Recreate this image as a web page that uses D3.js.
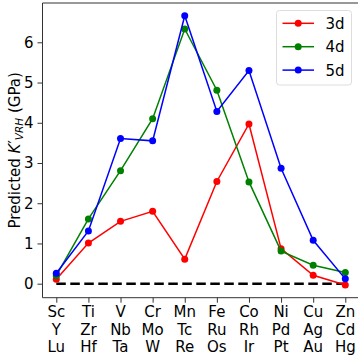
<!DOCTYPE html>
<html>
<head>
<meta charset="utf-8">
<script src="https://cdn.jsdelivr.net/npm/d3@7"></script>
<style>
  body { margin: 0; background: #fff; }
  text { font-family: "DejaVu Sans", sans-serif; fill: #000; }
</style>
</head>
<body>
<div id="chart"></div>
<script>
// element rows, one column per group
var row3d = ["Sc", "Ti", "V", "Cr", "Mn", "Fe", "Co", "Ni", "Cu", "Zn"];
var row4d = ["Y", "Zr", "Nb", "Mo", "Tc", "Ru", "Rh", "Pd", "Ag", "Cd"];
var row5d = ["Lu", "Hf", "Ta", "W", "Re", "Os", "Ir", "Pt", "Au", "Hg"];

var vals3d = [0.11, 1.01, 1.55, 1.80, 0.61, 2.54, 3.97, 0.87, 0.21, -0.03];
var vals4d = [0.20, 1.61, 2.81, 4.10, 6.33, 4.81, 2.53, 0.81, 0.46, 0.28];
var vals5d = [0.26, 1.31, 3.61, 3.55, 6.66, 4.28, 5.30, 2.87, 1.08, 0.12];

var yTicks = [0, 1, 2, 3, 4, 5, 6];
var seriesNames = ["3d", "4d", "5d"];
var seriesColors = ["red", "green", "blue"];

var width = 358, height = 362;
var fs = 15;

var svg = d3.select("#chart").append("svg")
  .attr("width", width)
  .attr("height", height);

var x = d3.scaleLinear().domain([0, 9]).range([56.3, 345.3]);
var y = d3.scaleLinear().domain([0, 6]).range([283.7, 42.3]);

var axLeft = 42.5, axTop = 3, axBottom = 297.7;

// y axis
var yAxis = svg.append("g")
  .attr("transform", "translate(" + axLeft + ",0)")
  .call(d3.axisLeft(y).tickValues(yTicks).tickSize(5).tickPadding(4).tickFormat(d3.format("d")));
yAxis.select(".domain").remove();
yAxis.selectAll("text").style("font-size", fs + "px").style("font-family", "DejaVu Sans");
yAxis.selectAll("line").attr("stroke", "#333");

// x axis with three label lines
var xAxis = svg.append("g")
  .attr("transform", "translate(0," + axBottom + ")")
  .call(d3.axisBottom(x).tickValues(d3.range(10)).tickSize(5).tickFormat(""));
xAxis.select(".domain").remove();
xAxis.selectAll("line").attr("stroke", "#333");

var rows = [row3d, row4d, row5d];
rows.forEach(function (row, r) {
  svg.append("g").selectAll("text")
    .data(row)
    .enter().append("text")
    .attr("x", function (d, i) { return x(i); })
    .attr("y", 317 + r * 17.6)
    .attr("text-anchor", "middle")
    .style("font-size", fs + "px")
    .text(function (d) { return d; });
});

// spines
svg.append("line").attr("x1", axLeft).attr("x2", axLeft).attr("y1", axTop).attr("y2", axBottom)
  .attr("stroke", "#333").attr("stroke-width", 1);
svg.append("line").attr("x1", axLeft).attr("x2", width).attr("y1", axBottom).attr("y2", axBottom)
  .attr("stroke", "#333").attr("stroke-width", 1);
svg.append("line").attr("x1", axLeft).attr("x2", width).attr("y1", axTop).attr("y2", axTop)
  .attr("stroke", "#333").attr("stroke-width", 1);

// y label
var ylab = svg.append("text")
  .attr("transform", "translate(20," + ((axTop + axBottom) / 2) + ") rotate(-90)")
  .attr("text-anchor", "middle")
  .style("font-size", fs + "px");
ylab.append("tspan").text("Predicted ");
ylab.append("tspan").style("font-style", "italic").text("K");
ylab.append("tspan").text("′");
ylab.append("tspan").style("font-style", "italic").style("font-size", (fs * 0.7) + "px")
  .attr("dy", 3).text("VRH");
ylab.append("tspan").attr("dy", -3).text(" (GPa)");

// zero line
svg.append("line")
  .attr("x1", x(0)).attr("x2", x(9))
  .attr("y1", y(0)).attr("y2", y(0))
  .attr("stroke", "#000")
  .attr("stroke-width", 2.6)
  .attr("stroke-dasharray", "9.5,4.5");

var line = d3.line()
  .x(function (d, i) { return x(i); })
  .y(function (d) { return y(d); });

var allSeries = [vals3d, vals4d, vals5d];
allSeries.forEach(function (vals, s) {
  var g = svg.append("g");
  g.append("path")
    .datum(vals)
    .attr("d", line)
    .attr("fill", "none")
    .attr("stroke", seriesColors[s])
    .attr("stroke-width", 1.5);
  g.selectAll("circle")
    .data(vals)
    .enter().append("circle")
    .attr("cx", function (d, i) { return x(i); })
    .attr("cy", function (d) { return y(d); })
    .attr("r", 3.5)
    .attr("fill", seriesColors[s]);
});

// legend
var legend = svg.append("g");
legend.append("rect")
  .attr("x", 276.5).attr("y", 10.5)
  .attr("width", 75).attr("height", 74.5)
  .attr("rx", 3)
  .attr("fill", "#fff").attr("fill-opacity", 0.8)
  .attr("stroke", "#ddd");
seriesNames.forEach(function (name, i) {
  var ly = 23.3 + i * 23.4;
  legend.append("line")
    .attr("x1", 282.5).attr("x2", 314)
    .attr("y1", ly).attr("y2", ly)
    .attr("stroke", seriesColors[i]).attr("stroke-width", 1.5);
  legend.append("circle")
    .attr("cx", 298.2).attr("cy", ly).attr("r", 3.5)
    .attr("fill", seriesColors[i]);
  legend.append("text")
    .attr("x", 325.5).attr("y", ly + 5.6)
    .style("font-size", fs + "px")
    .text(name);
});
</script>
</body>
</html>
